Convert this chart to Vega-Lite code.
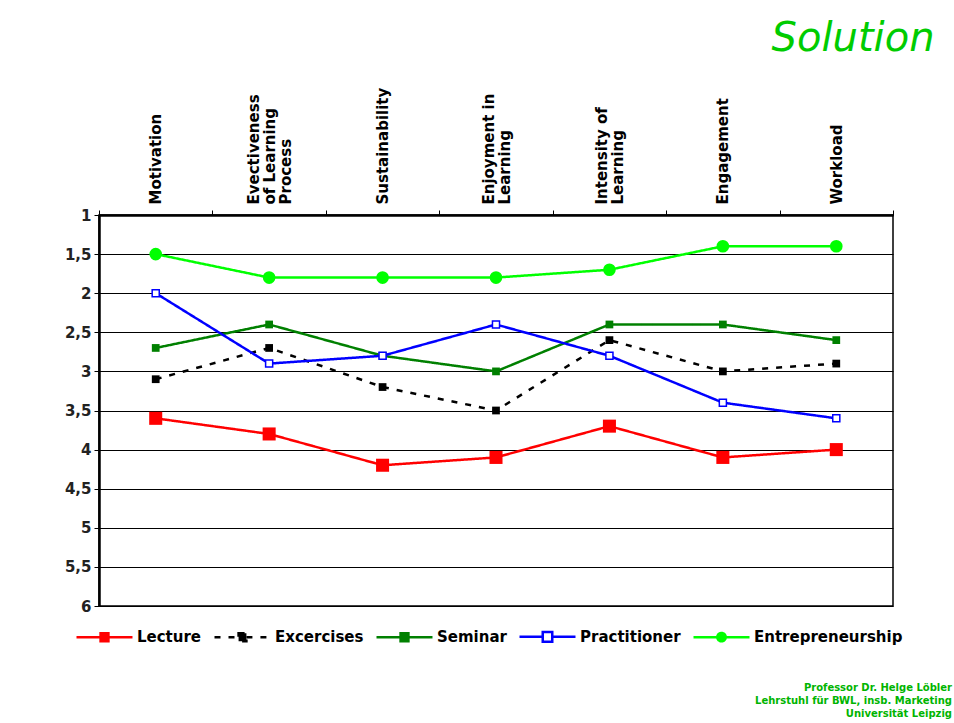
{
  "$schema": "https://vega.github.io/schema/vega-lite/v6.json",
  "width": 794,
  "height": 391,
  "autosize": {"type": "none"},
  "padding": {"left": 99, "top": 215, "right": 61, "bottom": 117},
  "background": "white",
  "title": {
    "text": ["Professor Dr. Helge Löbler", "Lehrstuhl für BWL, insb. Marketing", "Universität Leipzig"],
    "orient": "bottom",
    "anchor": "end",
    "frame": "group",
    "align": "right",
    "font": "DejaVu Sans",
    "fontSize": 10,
    "fontWeight": "bold",
    "color": "#00b400",
    "lineHeight": 13,
    "dx": 59,
    "offset": 36
  },
  "data": {
    "values": [
      {"criterion": "Motivation", "series": "Lecture", "value": 3.6},
      {"criterion": "Evectiveness of Learning Process", "series": "Lecture", "value": 3.8},
      {"criterion": "Sustainability", "series": "Lecture", "value": 4.2},
      {"criterion": "Enjoyment in Learning", "series": "Lecture", "value": 4.1},
      {"criterion": "Intensity of Learning", "series": "Lecture", "value": 3.7},
      {"criterion": "Engagement", "series": "Lecture", "value": 4.1},
      {"criterion": "Workload", "series": "Lecture", "value": 4.0},
      {"criterion": "Motivation", "series": "Excercises", "value": 3.1},
      {"criterion": "Evectiveness of Learning Process", "series": "Excercises", "value": 2.7},
      {"criterion": "Sustainability", "series": "Excercises", "value": 3.2},
      {"criterion": "Enjoyment in Learning", "series": "Excercises", "value": 3.5},
      {"criterion": "Intensity of Learning", "series": "Excercises", "value": 2.6},
      {"criterion": "Engagement", "series": "Excercises", "value": 3.0},
      {"criterion": "Workload", "series": "Excercises", "value": 2.9},
      {"criterion": "Motivation", "series": "Seminar", "value": 2.7},
      {"criterion": "Evectiveness of Learning Process", "series": "Seminar", "value": 2.4},
      {"criterion": "Sustainability", "series": "Seminar", "value": 2.8},
      {"criterion": "Enjoyment in Learning", "series": "Seminar", "value": 3.0},
      {"criterion": "Intensity of Learning", "series": "Seminar", "value": 2.4},
      {"criterion": "Engagement", "series": "Seminar", "value": 2.4},
      {"criterion": "Workload", "series": "Seminar", "value": 2.6},
      {"criterion": "Motivation", "series": "Practitioner", "value": 2.0},
      {"criterion": "Evectiveness of Learning Process", "series": "Practitioner", "value": 2.9},
      {"criterion": "Sustainability", "series": "Practitioner", "value": 2.8},
      {"criterion": "Enjoyment in Learning", "series": "Practitioner", "value": 2.4},
      {"criterion": "Intensity of Learning", "series": "Practitioner", "value": 2.8},
      {"criterion": "Engagement", "series": "Practitioner", "value": 3.4},
      {"criterion": "Workload", "series": "Practitioner", "value": 3.6},
      {"criterion": "Motivation", "series": "Entrepreneurship", "value": 1.5},
      {"criterion": "Evectiveness of Learning Process", "series": "Entrepreneurship", "value": 1.8},
      {"criterion": "Sustainability", "series": "Entrepreneurship", "value": 1.8},
      {"criterion": "Enjoyment in Learning", "series": "Entrepreneurship", "value": 1.8},
      {"criterion": "Intensity of Learning", "series": "Entrepreneurship", "value": 1.7},
      {"criterion": "Engagement", "series": "Entrepreneurship", "value": 1.4},
      {"criterion": "Workload", "series": "Entrepreneurship", "value": 1.4}
    ]
  },
  "encoding": {
    "x": {
      "field": "criterion",
      "type": "nominal",
      "sort": ["Motivation", "Evectiveness of Learning Process", "Sustainability", "Enjoyment in Learning", "Intensity of Learning", "Engagement", "Workload"],
      "bandPosition": 0.5,
      "scale": {"type": "band", "paddingInner": 0, "paddingOuter": 0},
      "axis": {
        "orient": "top",
        "title": "Solution",
        "titleFont": "DejaVu Sans",
        "titleFontStyle": "italic",
        "titleFontWeight": "normal",
        "titleFontSize": 40,
        "titleColor": "#00cc00",
        "titleAnchor": "end",
        "titleAlign": "right",
        "titleBaseline": "alphabetic",
        "titleX": 835,
        "titleY": -165,
        "labelAngle": 270,
        "labelAlign": "left",
        "labelBaseline": "middle",
        "labelFont": "DejaVu Sans",
        "labelFontWeight": "bold",
        "labelFontSize": 15,
        "labelColor": "#000000",
        "labelLineHeight": 16,
        "labelPadding": 6,
        "labelLimit": 0,
        "labelOffset": {"expr": "datum.value == 'Evectiveness of Learning Process' ? -16 : (datum.value == 'Enjoyment in Learning' || datum.value == 'Intensity of Learning') ? -8 : 0"},
        "labelExpr": "datum.value == 'Evectiveness of Learning Process' ? ['Evectiveness', 'of Learning', 'Process'] : datum.value == 'Enjoyment in Learning' ? ['Enjoyment in', 'Learning'] : datum.value == 'Intensity of Learning' ? ['Intensity of', 'Learning'] : datum.label",
        "tickBand": "extent",
        "tickSize": 5,
        "tickColor": "#000000",
        "tickWidth": 1,
        "domainColor": "#000000",
        "domainWidth": 2.5,
        "grid": false
      }
    },
    "y": {
      "field": "value",
      "type": "quantitative",
      "scale": {"domain": [1, 6], "reverse": true, "nice": false, "zero": false},
      "axis": {
        "title": null,
        "tickCount": 10,
        "labelOverlap": false,
        "labelExpr": "replace(format(datum.value, '~g'), '.', ',')",
        "labelFont": "DejaVu Sans",
        "labelFontWeight": "bold",
        "labelFontSize": 15,
        "labelColor": "#222222",
        "labelPadding": 3,
        "tickSize": 5,
        "tickColor": "#000000",
        "domainColor": "#000000",
        "domainWidth": 2.5,
        "grid": true,
        "gridColor": "#000000",
        "gridWidth": 1,
        "gridOpacity": 1
      }
    }
  },
  "layer": [
    {
      "mark": {"type": "line", "strokeWidth": 2.5},
      "encoding": {
        "color": {
          "field": "series",
          "type": "nominal",
          "scale": {
            "domain": ["Lecture", "Excercises", "Seminar", "Practitioner", "Entrepreneurship"],
            "range": ["#ff0000", "#000000", "#008000", "#0000ff", "#00ff00"]
          },
          "legend": {
            "title": null,
            "orient": "none",
            "direction": "horizontal",
            "legendX": -24,
            "legendY": 392,
            "labelFont": "DejaVu Sans",
            "labelFontWeight": "bold",
            "labelFontSize": 15,
            "labelColor": "#000000",
            "labelOffset": 3,
            "columnPadding": 7,
            "symbolSize": 3136,
            "symbolStrokeWidth": 2.5,
            "symbolOpacity": 1,
            "encode": {
              "symbols": {
                "update": {
                  "shape": {"signal": "datum.value == 'Entrepreneurship' ? 'M-1,0H-0.15M0.15,0H1M0.15,0A0.15,0.15,0,1,1,-0.15,0A0.15,0.15,0,1,1,0.15,0Z' : datum.value == 'Practitioner' ? 'M-1,0H-0.17M0.17,0H1M-0.17,-0.17H0.17V0.17H-0.17Z' : 'M-1,0H-0.14M0.14,0H1M-0.14,-0.14H0.14V0.14H-0.14Z'"},
                  "fill": {"signal": "datum.value == 'Practitioner' ? '#ffffff' : scale('color', datum.value)"},
                  "fillOpacity": {"value": 1},
                  "strokeDash": {"signal": "datum.value == 'Excercises' ? [5, 6] : [1, 0]"}
                }
              }
            }
          }
        },
        "strokeDash": {
          "field": "series",
          "type": "nominal",
          "scale": {
            "domain": ["Lecture", "Excercises", "Seminar", "Practitioner", "Entrepreneurship"],
            "range": [[1, 0], [6, 8], [1, 0], [1, 0], [1, 0]]
          },
          "legend": null
        }
      }
    },
    {
      "transform": [{"filter": "datum.series != 'Practitioner'"}],
      "mark": {"type": "point", "filled": true, "opacity": 1, "strokeWidth": 0},
      "encoding": {
        "fill": {
          "field": "series",
          "type": "nominal",
          "scale": {"domain": ["Lecture", "Excercises", "Seminar", "Entrepreneurship"], "range": ["#ff0000", "#000000", "#008000", "#00ff00"]},
          "legend": null
        },
        "shape": {
          "field": "series",
          "type": "nominal",
          "scale": {"domain": ["Lecture", "Excercises", "Seminar", "Entrepreneurship"], "range": ["square", "square", "square", "circle"]},
          "legend": null
        },
        "size": {
          "field": "series",
          "type": "nominal",
          "scale": {"type": "ordinal", "domain": ["Lecture", "Excercises", "Seminar", "Entrepreneurship"], "range": [170, 60, 60, 160]},
          "legend": null
        }
      }
    },
    {
      "transform": [{"filter": "datum.series == 'Practitioner'"}],
      "mark": {"type": "point", "shape": "square", "filled": false, "fill": "white", "fillOpacity": 1, "stroke": "#0000ff", "strokeWidth": 1.5, "size": 50, "opacity": 1},
      "encoding": {}
    }
  ],
  "config": {
    "view": {"stroke": "#000000", "strokeWidth": 1.5}
  }
}
